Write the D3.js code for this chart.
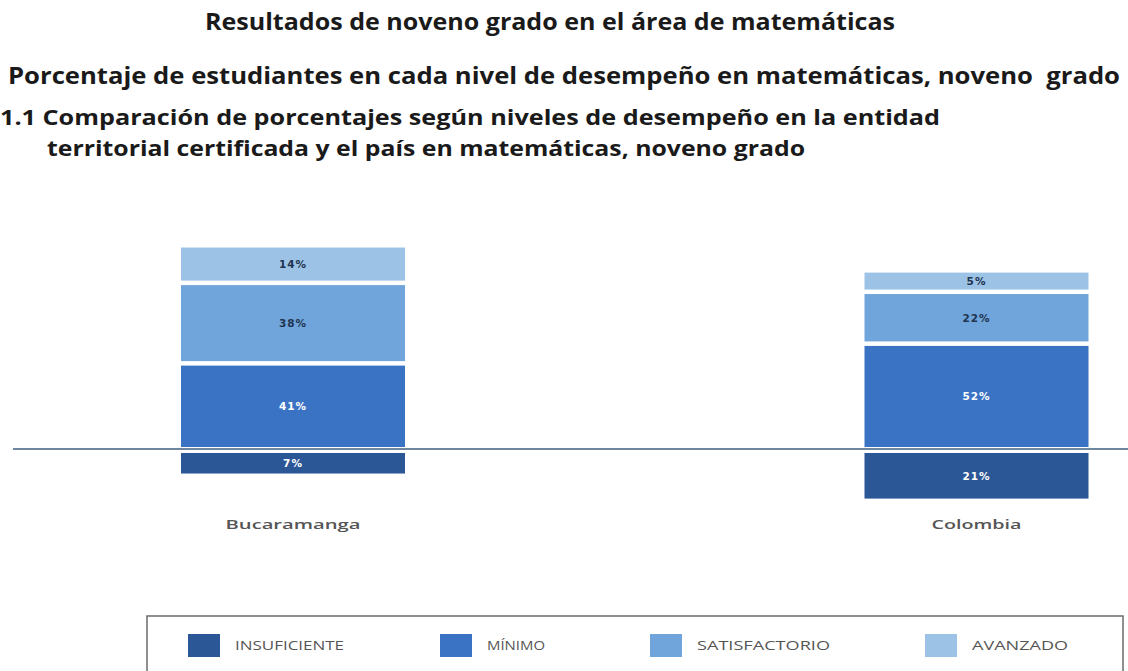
<!DOCTYPE html>
<html lang="es">
<head>
<meta charset="utf-8">
<script src="https://cdn.jsdelivr.net/npm/d3@7"></script>
<style>
  html, body { margin: 0; padding: 0; background: #fff; }
  svg { display: block; }
</style>
</head>
<body>
<svg id="chart" width="1128" height="671"></svg>
<script>
// Performance levels, ordered from the bottom of the stack upward
const levels = ["INSUFICIENTE", "MÍNIMO", "SATISFACTORIO", "AVANZADO"];
const entities = ["Bucaramanga", "Colombia"];
// Percentage of students per level for each entity
const bucaramanga = [7, 41, 38, 14];
const colombia = [21, 52, 22, 5];
const levelColors = ["#2c5797", "#3a73c4", "#6fa5da", "#9cc3e5"];
const labelColors = ["#ffffff", "#ffffff", "#1f3350", "#1f3350"];

const titles = [
  "Resultados de noveno grado en el área de matemáticas",
  "Porcentaje de estudiantes en cada nivel de desempeño en matemáticas, noveno  grado",
  "1.1 Comparación de porcentajes según niveles de desempeño en la entidad",
  "territorial certificada y el país en matemáticas, noveno grado"
];

const values = [bucaramanga, colombia];
const svg = d3.select("#chart");

// ---- headings (condensed bold look via textLength) ----
const titleLayout = [
  { x: 550, y: 30, anchor: "middle", len: 690, size: 23 },
  { x: 8, y: 84, anchor: "start", len: 1112, size: 24 },
  { x: 0, y: 125, anchor: "start", len: 940, size: 22 },
  { x: 47, y: 156, anchor: "start", len: 758, size: 22 }
];
titles.forEach((t, i) => {
  const L = titleLayout[i];
  svg.append("text")
    .attr("x", L.x).attr("y", L.y)
    .attr("text-anchor", L.anchor)
    .attr("textLength", L.len)
    .attr("lengthAdjust", "spacingAndGlyphs")
    .style("white-space", "pre")
    .style("font-family", "'Open Sans', sans-serif")
    .style("font-weight", 700)
    .style("font-size", L.size + "px")
    .style("fill", "#1a1a1a")
    .text(t);
});

// ---- scales ----
const baseline = 449;
const barWidth = 224;
const x = d3.scalePoint().domain(entities).range([293, 976.5]);
// segment length: proportional part plus a fixed padding per block
const h = d3.scaleLinear().domain([0, 100]).range([8, 187]);
const gap = 4.5;

// baseline rule
svg.append("line")
  .attr("x1", 13).attr("x2", 1128)
  .attr("y1", baseline).attr("y2", baseline)
  .attr("stroke", "#6f86a0").attr("stroke-width", 2);

// ---- stacked blocks ----
entities.forEach((name, e) => {
  const vals = values[e];
  const segs = [];
  // insufficient level hangs below the baseline
  segs.push({ i: 0, y0: baseline + 4, y1: baseline + 4 + h(vals[0]) });
  let bottom = baseline - 2;
  for (let i = 1; i < levels.length; i++) {
    const top = bottom - h(vals[i]);
    segs.push({ i, y0: top, y1: bottom });
    bottom = top - gap;
  }
  const g = svg.append("g");
  g.selectAll("rect").data(segs).join("rect")
    .attr("x", x(name) - barWidth / 2)
    .attr("width", barWidth)
    .attr("y", d => d.y0)
    .attr("height", d => d.y1 - d.y0)
    .attr("fill", d => levelColors[d.i]);
  g.selectAll("text").data(segs).join("text")
    .attr("x", x(name))
    .attr("y", d => (d.y0 + d.y1) / 2)
    .attr("dy", "0.36em")
    .attr("text-anchor", "middle")
    .style("font-family", "'DejaVu Sans', sans-serif")
    .style("font-weight", "bold")
    .style("font-size", "10.5px")
    .style("letter-spacing", "1px")
    .style("fill", d => labelColors[d.i])
    .text(d => vals[d.i] + "%");

  svg.append("text")
    .attr("x", x(name)).attr("y", 529)
    .attr("text-anchor", "middle")
    .attr("textLength", e === 0 ? 135 : 90)
    .attr("lengthAdjust", "spacingAndGlyphs")
    .style("font-family", "'Open Sans', sans-serif")
    .style("font-weight", 600)
    .style("font-size", "13px")
    .style("fill", "#555")
    .text(name);
});

// ---- legend ----
svg.append("rect")
  .attr("x", 147).attr("y", 616)
  .attr("width", 976).attr("height", 70)
  .attr("fill", "none").attr("stroke", "#6b6b6b").attr("stroke-width", 1.5);
const legendX = [188, 440, 650, 925];
const legendLen = [109, 58, 133, 96];
levels.forEach((lv, i) => {
  svg.append("rect")
    .attr("x", legendX[i]).attr("y", 634)
    .attr("width", 32).attr("height", 23)
    .attr("fill", levelColors[i]);
  svg.append("text")
    .attr("x", legendX[i] + 47).attr("y", 650)
    .attr("textLength", legendLen[i])
    .attr("lengthAdjust", "spacingAndGlyphs")
    .style("font-family", "'Open Sans', sans-serif")
    .style("font-size", "13px")
    .style("fill", "#555")
    .text(lv);
});
</script>
</body>
</html>
